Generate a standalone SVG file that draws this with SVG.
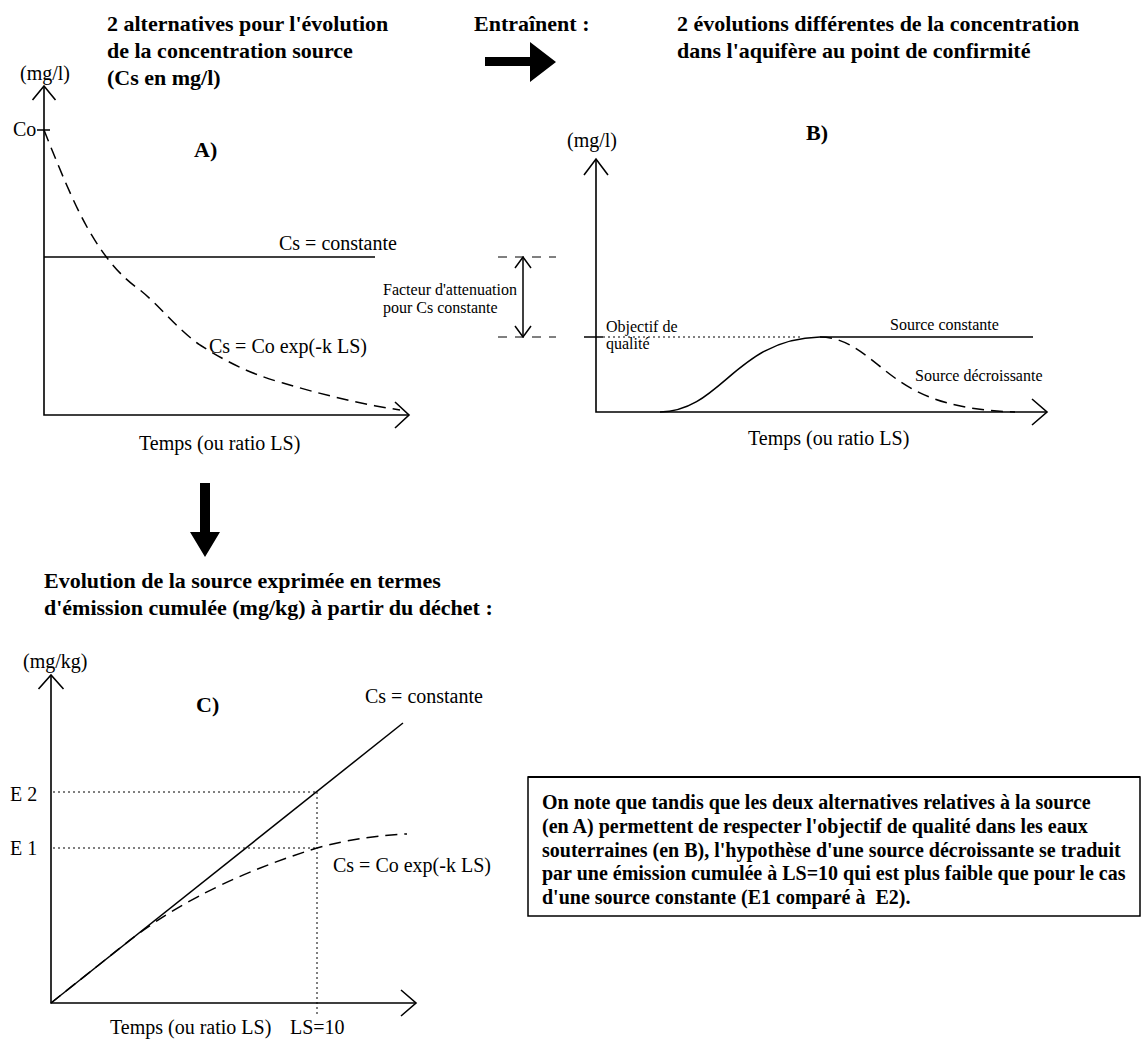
<svg xmlns="http://www.w3.org/2000/svg" width="1141" height="1041" viewBox="0 0 1141 1041">
<style>
text{font-family:"Liberation Serif","Times New Roman",serif;fill:#000}
.t{font-size:22px;font-weight:bold}
.l{font-size:20px}
.s{font-size:16px}
.n{font-size:20px;font-weight:bold}
.ax{stroke:#000;stroke-width:1.6;fill:none}
.ln{stroke:#000;stroke-width:1.5;fill:none}
.da{stroke:#000;stroke-width:1.5;fill:none;stroke-dasharray:12 7}
.dt{stroke:#000;stroke-width:1;fill:none;stroke-dasharray:2 3}
.ds{stroke:#000;stroke-width:1;fill:none;stroke-dasharray:9 8}
</style>
<rect width="1141" height="1041" fill="#fff"/>

<g id="titles">
<text class="t" x="107" y="31">2 alternatives pour l'évolution</text>
<text class="t" x="107" y="58">de la concentration source</text>
<text class="t" x="107" y="85">(Cs en mg/l)</text>
<text class="t" x="474" y="31">Entraînent :</text>
<text class="t" x="677" y="31">2 évolutions différentes de la concentration</text>
<text class="t" x="677" y="58">dans l'aquifère au point de confirmité</text>
<text class="t" x="44" y="588">Evolution de la source exprimée en termes</text>
<text class="t" x="44" y="615">d'émission cumulée (mg/kg) à partir du déchet :</text>
</g>

<g id="panelA">
<path class="ax" d="M44,86 V415 H409"/>
<path class="ax" d="M32.5,100 L44,86 L55.5,100"/>
<path class="ax" d="M395,402 L409,415 L395,428"/>
<path class="ln" d="M37,130 H50"/>
<path class="ln" d="M44,257 H375"/>
<path class="da" d="M44,130 C58,165 72,200 87,227 C104,257 120,276 140,290 C160,306 178,330 200,345 C225,361 250,374 283,383 C320,394 360,404 400,410"/>
<text class="l" x="20" y="80">(mg/l)</text>
<text class="l" x="13" y="136">Co</text>
<text class="t" x="194" y="157">A)</text>
<text class="l" x="279" y="250">Cs = constante</text>
<text class="l" x="209" y="353">Cs = Co exp(-k LS)</text>
<text class="l" x="139" y="450">Temps (ou ratio LS)</text>
</g>

<g id="attenuation">
<path class="ds" d="M498,257 H556 M498,337 H556"/>
<path class="ln" d="M523,257 V337"/>
<path class="ln" d="M515,268 L523,257 L531,268 M515,326 L523,337 L531,326"/>
<text class="s" x="383" y="295">Facteur d'attenuation</text>
<text class="s" x="383" y="313">pour Cs constante</text>
</g>

<g id="panelB">
<path class="ax" d="M596,159 V412 H1047"/>
<path class="ax" d="M584,175 L596,159 L608,175"/>
<path class="ax" d="M1032,399 L1047,412 L1032,425"/>
<path class="ln" d="M584,337 H603"/>
<path class="dt" d="M603,337 H800"/>
<path class="ln" d="M660,412 C722,411 735,339 820,337 H1033"/>
<path class="da" d="M820,337 C850,337 870,360 895,378 C925,400 960,410 1015,412"/>
<text class="l" x="567" y="147">(mg/l)</text>
<text class="t" x="806" y="140">B)</text>
<text class="s" x="606" y="332">Objectif de</text>
<text class="s" x="606" y="349">qualité</text>
<text class="s" x="890" y="330">Source constante</text>
<text class="s" x="915" y="381">Source décroissante</text>
<text class="l" x="748" y="445">Temps (ou ratio LS)</text>
</g>

<g id="panelC">
<path class="ax" d="M51,675 V1003 H416"/>
<path class="ax" d="M38.5,689 L51,675 L63.5,689"/>
<path class="ax" d="M401,990 L416,1003 L401,1016"/>
<path class="dt" d="M53,792 H317 M53,848 H317 M317,792 V1015"/>
<path class="ln" d="M51,1003 L403,723"/>
<path class="da" d="M51,1003 L125,944 C160,916 220,878 317,848 C350,839 380,835 407,834"/>
<text class="l" x="23" y="668">(mg/kg)</text>
<text class="t" x="196" y="712">C)</text>
<text class="l" x="365" y="703">Cs = constante</text>
<text class="l" x="10" y="801">E 2</text>
<text class="l" x="10" y="855">E 1</text>
<text class="l" x="333" y="872">Cs = Co exp(-k LS)</text>
<text class="l" x="110" y="1034">Temps (ou ratio LS)</text>
<text class="l" x="290" y="1034">LS=10</text>
</g>

<g id="note">
<path d="M528,916 V777 H1140 V916 Z" fill="none" stroke="#000" stroke-width="1.5"/>
<path d="M528,777 H1140" stroke="#000" stroke-width="2.2"/>
<text class="n" x="542" y="809">On note que tandis que les deux alternatives relatives à la source</text>
<text class="n" x="542" y="833">(en A) permettent de respecter l'objectif de qualité dans les eaux</text>
<text class="n" x="542" y="857">souterraines (en B), l'hypothèse d'une source décroissante se traduit</text>
<text class="n" x="542" y="880">par une émission cumulée à LS=10 qui est plus faible que pour le cas</text>
<text class="n" x="542" y="904" xml:space="preserve">d'une source constante (E1 comparé à  E2).</text>
</g>

<g id="connectors">
<path d="M485,57 H530 V42 L556,62 L530,82 V66 H485 Z" fill="#000"/>
<path d="M200,483 H210 V532 H220 L205,557 L190,532 H200 Z" fill="#000"/>
</g>
</svg>
